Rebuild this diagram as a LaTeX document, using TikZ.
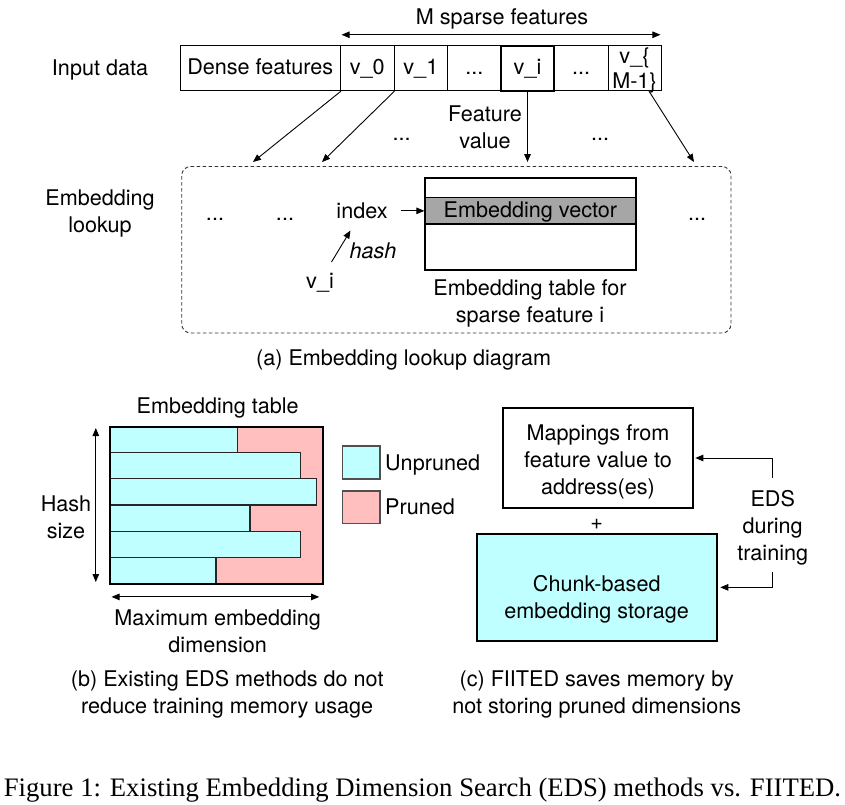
\documentclass[tikz,border=0pt]{standalone}
\usepackage{fontspec}
\setmainfont{TeX Gyre Heros}
\newfontfamily\capfont{Liberation Serif}
\usetikzlibrary{arrows.meta,calc}
\definecolor{cyanfill}{HTML}{C0FFFF}
\definecolor{pinkfill}{HTML}{FFBFBF}
\definecolor{bandgray}{HTML}{A6A6A6}
\definecolor{legline}{HTML}{505050}
\newcommand{\fsz}{\fontsize{21.6}{27}\selectfont}
\begin{document}
\begin{tikzpicture}[x=1pt,y=-1pt,
  txt/.style={inner sep=0pt, anchor=base, align=center, font=\fsz},
  cell/.style={draw, line width=0.9pt, minimum height=45pt, inner sep=0pt,
    text height=15.5pt, text depth=2pt, font=\fsz},
  arr/.style={-{Triangle[length=8pt,width=6.5pt]}, line width=0.9pt},
  darr/.style={{Triangle[length=8pt,width=6.5pt]}-{Triangle[length=8pt,width=6.5pt]}, line width=0.9pt},
  bar/.style={fill=cyanfill, draw=black!85, line width=1.1pt},
  leg/.style={draw=legline, line width=1.1pt, minimum width=37.3pt, inner sep=0pt},
  box/.style={draw, line width=2pt, inner sep=0pt}]
\useasboundingbox (0,0) rectangle (845,804);
\fill[white] (0,0) rectangle (845,804);

% ---------- (a) ----------
\node[txt] (msf) at (502,24.5) {M sparse features};
\node[txt] (inp) at (100,75) {Input data};
\node[cell, minimum width=160.5pt] (dense) at (260.25,68.2) {Dense features};
\node[cell, minimum width=53.5pt] (v0) at (367.25,68.2) {v\_0};
\node[cell, minimum width=53.7pt] (v1) at (420.85,68.2) {v\_1};
\node[cell, minimum width=53.3pt] (d1) at (474.35,68.2) {...};
\node[cell, minimum width=54pt] (d2) at (581,68.2) {...};
\node[cell, minimum width=53pt] (vm) at (634.5,68.2) {};
\node[txt, font=\fontsize{21.6}{25}\selectfont] (vmt) at (634.5,88) {v\_\{\\M-1\}};
\node[cell, minimum width=53pt, line width=2.4pt] (vi) at (527.5,68.2) {v\_i};

\draw[darr] ($(v0.north west)+(1.5,-10.5)$) -- ($(vm.north east)+(-1,-10.5)$);

\coordinate (t1) at (253,162);
\coordinate (t2) at (322,162);
\coordinate (t3) at (694,162);
\draw[arr] (dense.south east) -- (t1);
\draw[arr] (v0.south east) -- (t2);
\draw[arr, line width=1.4pt] (vi.south) -- (vi.south |- t1);
\draw[arr] ($(vm.south)+(14.5,0)$) -- (t3);

\node[txt] (fv) at (485,148.3) {Feature\\value};
\node[txt] (dd1) at (401.7,140) {...};
\node[txt] (dd2) at (600,140) {...};

\node[draw=black!80, dash pattern=on 3.5pt off 2.5pt, rounded corners=9pt, line width=0.9pt,
  minimum width=549.3pt, minimum height=166.5pt, inner sep=0pt] (lookup) at (456.35,249.75) {};
\node[txt] (elk) at (100,232.5) {Embedding\\lookup};

\node[draw, line width=1.2pt, fill=bandgray, minimum width=210.7pt, minimum height=26.3pt,
  inner sep=0pt, text height=15.5pt, text depth=3pt, font=\fsz] (evec) at (530.35,210.85) {Embedding vector};
\node[draw, line width=2pt, minimum width=210.7pt, minimum height=92pt, inner sep=0pt] (etab) at (530.35,224) {};

\node[txt] (index) at (362,218) {index};
\draw[arr, shorten <=13pt] (index.east |- evec.west) -- (evec.west);
\coordinate (h1) at (331.5,262);
\coordinate (h2) at (350.5,230.5);
\draw[arr] (h1) -- (h2);
\node[txt, font=\fsz\itshape] (hash) at (373,258) {hash};
\node[txt] (vi2) at (320,288.3) {v\_i};
\node[txt] (etl) at (530,322) {Embedding table for\\sparse feature i};
\node[txt] (ld1) at (215,220) {...};
\node[txt] (ld2) at (285,220) {...};
\node[txt] (ld3) at (697,220) {...};
\node[txt] (capa) at (403.6,365) {(a) Embedding lookup diagram};

% ---------- (b) ----------
\node[txt] (ettl) at (217.7,413) {Embedding table};
\node[fill=pinkfill, minimum width=212.7pt, minimum height=156.6pt, inner sep=0pt] (tbl) at (216.35,505) {};
\foreach \w [count=\k] in {237.3,300.3,316.7,250,300.3,216}
  \draw[bar] (110,{426.7+(\k-1)*26.1}) rectangle (\w,{426.7+\k*26.1});
\draw[line width=2pt] (tbl.north west) rectangle (tbl.south east);
\draw[darr] ($(tbl.north west)+(-14,1.5)$) -- ($(tbl.south west)+(-14,-1.5)$);
\draw[darr] ($(tbl.south west)+(1.7,13.4)$) -- ($(tbl.south east)+(-3.7,13.4)$);
\node[txt] (hs) at (66,538.7) {Hash\\size};
\node[txt] (med) at (217.7,652) {Maximum embedding\\dimension};
\node[leg, fill=cyanfill, minimum height=33pt] (lc) at (361.35,462.5) {};
\node[leg, fill=pinkfill, minimum height=32.7pt] (lp) at (361.35,507.35) {};
\node[txt, anchor=base west] (lu) at (385,470) {Unpruned};
\node[txt, anchor=base west] (lpr) at (385,514) {Pruned};
\node[txt] (capb) at (227.2,713.7) {(b) Existing EDS methods do not\\reduce training memory usage};

% ---------- (c) ----------
\node[box, minimum width=190pt, minimum height=99.4pt] (map) at (598.3,458) {};
\node[txt] (mapt) at (598,494) {Mappings from\\feature value to\\address(es)};
\node[txt] (plus) at (596.7,529) {+};
\node[box, fill=cyanfill, minimum width=240.6pt, minimum height=106.7pt] (chunk) at (597,587.35) {};
\node[txt] (chunkt) at (596.7,618.7) {Chunk-based\\embedding storage};
\node[txt] (eds) at (772.7,560.7) {EDS\\during\\training};
\coordinate (e1) at (772.7,478);
\coordinate (e2) at (772.7,571.7);
\draw[arr, shorten >=1pt] (e1) |- (map.east);
\draw[arr, shorten >=2pt] (e2) |- (chunk.east);
\node[txt] (capc) at (596.7,713.7) {(c) FIITED saves memory by\\not storing pruned dimensions};

\node[txt, font=\capfont\fontsize{26.7}{30}\selectfont] (fig) at (422.5,796)
  {Figure 1: Existing Embedding Dimension Search (EDS) methods vs. FIITED.};
\end{tikzpicture}
\end{document}
